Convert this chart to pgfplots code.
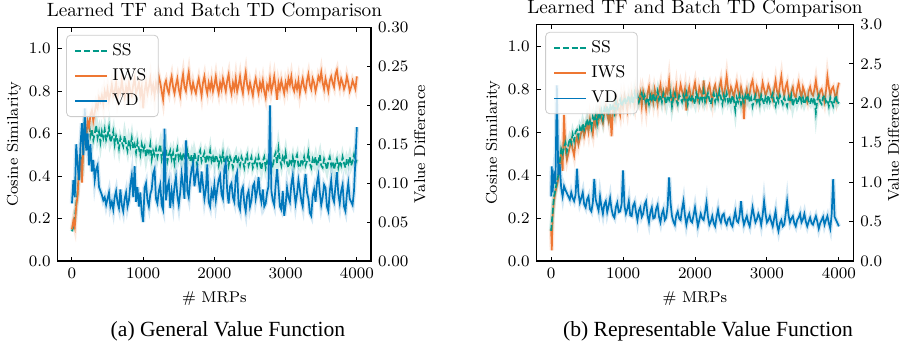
\documentclass[border=0pt]{standalone}
\usepackage{pgfplots}
\usepackage{pgfplotstable}
\pgfplotsset{compat=1.18}
\usepackage{fontspec}
\newfontfamily\timesfont{Liberation Serif}
\definecolor{ssc}{HTML}{009988}
\definecolor{iwsc}{HTML}{EE7733}
\definecolor{vdc}{HTML}{0077BB}
% panel (a): SS and IWS cosine similarity (left axis), VD value difference (right axis)
\pgfplotstableread{
x ss iws vd
0 0.14 0.15 0.074
20 0.16 0.19 0.104
40 0.20 0.16 0.082
60 0.27 0.26 0.150
80 0.33 0.31 0.123
100 0.42 0.44 0.104
120 0.50 0.49 0.150
140 0.40 0.37 0.177
160 0.55 0.54 0.136
180 0.62 0.64 0.196
200 0.60 0.58 0.142
220 0.63 0.66 0.164
240 0.65 0.63 0.123
260 0.59 0.69 0.150
280 0.62 0.71 0.115
300 0.57 0.66 0.130
320 0.60 0.70 0.104
340 0.64 0.74 0.118
360 0.58 0.72 0.123
380 0.61 0.77 0.095
400 0.56 0.75 0.090
420 0.61 0.78 0.085
440 0.58 0.74 0.078
460 0.62 0.80 0.082
480 0.57 0.77 0.072
500 0.59 0.81 0.080
520 0.63 0.76 0.088
540 0.56 0.79 0.070
560 0.58 0.83 0.076
580 0.61 0.78 0.066
600 0.55 0.80 0.082
620 0.59 0.84 0.090
640 0.57 0.77 0.075
660 0.53 0.81 0.068
680 0.58 0.79 0.092
700 0.56 0.85 0.072
720 0.54 0.80 0.064
740 0.59 0.77 0.080
760 0.55 0.82 0.088
780 0.52 0.79 0.070
800 0.57 0.84 0.078
820 0.54 0.80 0.098
840 0.58 0.78 0.110
860 0.53 0.83 0.082
880 0.55 0.86 0.122
900 0.51 0.79 0.076
920 0.56 0.81 0.095
940 0.53 0.84 0.070
960 0.50 0.78 0.088
980 0.55 0.82 0.062
1000 0.52 0.72 0.050
1020 0.54 0.80 0.094
1040 0.49 0.84 0.100
1060 0.53 0.79 0.078
1080 0.51 0.82 0.070
1100 0.55 0.86 0.086
1120 0.48 0.80 0.092
1140 0.52 0.83 0.112
1160 0.50 0.78 0.118
1180 0.53 0.84 0.080
1200 0.49 0.81 0.074
1220 0.52 0.87 0.090
1240 0.55 0.84 0.098
1260 0.48 0.80 0.072
1280 0.51 0.76 0.066
1300 0.49 0.83 0.170
1320 0.53 0.85 0.078
1340 0.47 0.81 0.094
1360 0.50 0.79 0.102
1380 0.52 0.84 0.068
1400 0.48 0.87 0.090
1420 0.51 0.82 0.076
1440 0.46 0.79 0.096
1460 0.50 0.83 0.108
1480 0.53 0.86 0.084
1500 0.48 0.81 0.072
1520 0.50 0.78 0.088
1540 0.47 0.84 0.112
1560 0.51 0.88 0.098
1580 0.49 0.82 0.080
1600 0.46 0.80 0.155
1620 0.52 0.85 0.090
1640 0.49 0.89 0.082
1660 0.47 0.83 0.104
1680 0.50 0.80 0.118
1700 0.46 0.84 0.125
1720 0.51 0.81 0.096
1740 0.48 0.79 0.110
1760 0.45 0.83 0.120
1780 0.50 0.86 0.102
1800 0.52 0.82 0.088
1820 0.47 0.78 0.115
1840 0.49 0.84 0.098
1860 0.51 0.87 0.080
1880 0.46 0.82 0.092
1900 0.50 0.79 0.124
1920 0.48 0.84 0.076
1940 0.52 0.81 0.070
1960 0.47 0.85 0.090
1980 0.49 0.80 0.082
2000 0.46 0.83 0.098
2020 0.50 0.87 0.078
2040 0.48 0.82 0.092
2060 0.45 0.79 0.104
2080 0.49 0.84 0.110
2100 0.47 0.81 0.086
2120 0.51 0.86 0.080
2140 0.46 0.83 0.118
2160 0.48 0.80 0.126
2180 0.50 0.85 0.090
2200 0.45 0.88 0.074
2220 0.49 0.82 0.096
2240 0.47 0.79 0.100
2260 0.44 0.84 0.082
2280 0.48 0.81 0.076
2300 0.50 0.86 0.108
2320 0.46 0.80 0.114
2340 0.48 0.83 0.072
2360 0.45 0.87 0.066
2380 0.49 0.82 0.090
2400 0.47 0.79 0.095
2420 0.44 0.85 0.074
2440 0.48 0.89 0.064
2460 0.50 0.83 0.084
2480 0.45 0.80 0.090
2500 0.47 0.84 0.070
2520 0.49 0.81 0.078
2540 0.44 0.78 0.096
2560 0.46 0.83 0.100
2580 0.48 0.86 0.080
2600 0.45 0.82 0.090
2620 0.49 0.79 0.108
2640 0.46 0.84 0.086
2660 0.43 0.81 0.076
2680 0.47 0.85 0.092
2700 0.49 0.80 0.070
2720 0.44 0.77 0.074
2740 0.47 0.83 0.088
2760 0.45 0.81 0.096
2780 0.48 0.86 0.200
2800 0.46 0.80 0.090
2820 0.44 0.83 0.078
2840 0.49 0.87 0.072
2860 0.51 0.82 0.098
2880 0.46 0.76 0.118
2900 0.53 0.84 0.094
2920 0.48 0.81 0.070
2940 0.45 0.85 0.066
2960 0.49 0.82 0.090
2980 0.47 0.79 0.058
3000 0.51 0.84 0.072
3020 0.46 0.81 0.094
3040 0.44 0.86 0.082
3060 0.48 0.83 0.076
3080 0.46 0.87 0.098
3100 0.49 0.82 0.110
3120 0.45 0.80 0.090
3140 0.48 0.84 0.074
3160 0.50 0.81 0.086
3180 0.45 0.85 0.104
3200 0.44 0.79 0.092
3220 0.48 0.83 0.078
3240 0.46 0.86 0.070
3260 0.49 0.82 0.096
3280 0.45 0.80 0.112
3300 0.47 0.85 0.088
3320 0.51 0.88 0.080
3340 0.46 0.83 0.062
3360 0.44 0.81 0.058
3380 0.48 0.86 0.084
3400 0.46 0.84 0.092
3420 0.49 0.80 0.076
3440 0.45 0.83 0.100
3460 0.47 0.87 0.110
3480 0.50 0.85 0.088
3500 0.45 0.89 0.072
3520 0.44 0.84 0.082
3540 0.48 0.81 0.098
3560 0.46 0.86 0.094
3580 0.43 0.83 0.070
3600 0.47 0.80 0.064
3620 0.49 0.85 0.090
3640 0.45 0.87 0.104
3660 0.47 0.84 0.082
3680 0.43 0.82 0.076
3700 0.46 0.88 0.096
3720 0.48 0.90 0.114
3740 0.44 0.85 0.086
3760 0.47 0.82 0.074
3780 0.45 0.86 0.090
3800 0.49 0.84 0.098
3820 0.46 0.81 0.070
3840 0.44 0.83 0.064
3860 0.48 0.87 0.086
3880 0.46 0.84 0.100
3900 0.49 0.80 0.080
3920 0.45 0.82 0.076
3940 0.47 0.85 0.072
3960 0.50 0.83 0.090
3980 0.46 0.81 0.130
4000 0.48 0.87 0.172
}\dataA
% panel (b)
\pgfplotstableread{
x ss iws vd
0 0.14 0.15 0.82
10 0.18 0.05 1.20
20 0.22 0.20 0.87
40 0.30 0.28 1.09
60 0.33 0.32 0.98
80 0.37 0.35 2.23
100 0.40 0.38 1.09
120 0.46 0.45 1.23
140 0.52 0.50 0.93
160 0.50 0.42 0.82
180 0.53 0.68 0.95
200 0.55 0.52 0.90
220 0.51 0.47 0.86
240 0.54 0.50 0.82
260 0.57 0.53 0.78
280 0.55 0.56 0.87
300 0.59 0.52 0.80
320 0.56 0.49 0.76
340 0.60 0.55 0.84
360 0.61 0.58 1.17
380 0.58 0.54 0.86
400 0.62 0.57 0.74
420 0.60 0.60 0.80
440 0.64 0.62 0.87
460 0.61 0.58 0.72
480 0.63 0.61 0.68
500 0.66 0.64 0.78
520 0.63 0.60 0.82
540 0.65 0.66 0.66
560 0.62 0.62 0.63
580 0.67 0.59 0.74
600 0.65 0.66 1.04
620 0.68 0.63 0.78
640 0.64 0.68 0.71
660 0.69 0.65 0.64
680 0.67 0.70 0.82
700 0.70 0.66 0.69
720 0.66 0.64 0.60
740 0.71 0.69 0.72
760 0.69 0.72 0.76
780 0.72 0.68 0.62
800 0.68 0.65 0.70
820 0.73 0.71 0.80
840 0.70 0.58 0.66
860 0.72 0.70 0.58
880 0.69 0.73 0.55
900 0.74 0.69 0.68
920 0.71 0.74 0.74
940 0.73 0.71 0.62
960 0.75 0.68 0.63
980 0.72 0.75 0.72
1000 0.74 0.71 1.15
1020 0.76 0.77 0.70
1040 0.73 0.74 0.60
1060 0.75 0.70 0.66
1080 0.77 0.76 0.76
1100 0.74 0.73 0.58
1120 0.76 0.78 0.57
1140 0.73 0.75 0.70
1160 0.78 0.72 0.74
1180 0.75 0.79 0.62
1200 0.77 0.76 0.52
1220 0.74 0.74 0.64
1240 0.76 0.78 0.68
1260 0.78 0.72 0.56
1280 0.75 0.79 0.60
1300 0.77 0.76 0.72
1320 0.74 0.71 0.76
1340 0.76 0.78 0.58
1360 0.73 0.81 0.49
1380 0.77 0.75 0.62
1400 0.75 0.78 0.68
1420 0.78 0.74 0.54
1440 0.74 0.80 0.55
1460 0.76 0.77 0.66
1480 0.79 0.73 0.71
1500 0.75 0.79 0.56
1520 0.77 0.82 0.49
1540 0.74 0.76 0.60
1560 0.78 0.79 0.65
1580 0.76 0.75 0.52
1600 0.73 0.80 0.55
1620 0.77 0.78 0.70
1640 0.75 0.84 1.06
1660 0.78 0.77 0.74
1680 0.72 0.74 0.57
1700 0.76 0.79 0.50
1720 0.78 0.76 0.46
1740 0.75 0.81 0.58
1760 0.73 0.75 0.63
1780 0.77 0.78 0.54
1800 0.76 0.82 0.52
1820 0.74 0.79 0.66
1840 0.77 0.76 0.76
1860 0.75 0.80 0.58
1880 0.78 0.70 0.46
1900 0.73 0.78 0.55
1920 0.76 0.81 0.60
1940 0.74 0.77 0.51
1960 0.77 0.75 0.49
1980 0.75 0.80 0.58
2000 0.73 0.83 0.68
2020 0.78 0.78 0.56
2040 0.76 0.75 0.44
2060 0.74 0.81 0.52
2080 0.77 0.79 0.60
2100 0.75 0.76 0.54
2120 0.79 0.84 0.52
2140 0.74 0.78 0.62
2160 0.76 0.75 0.74
2180 0.78 0.80 0.56
2200 0.75 0.82 0.46
2220 0.73 0.78 0.50
2240 0.76 0.74 0.57
2260 0.78 0.80 0.48
2280 0.74 0.82 0.44
2300 0.77 0.78 0.56
2320 0.75 0.76 0.65
2340 0.79 0.81 0.54
2360 0.76 0.84 0.49
2380 0.73 0.79 0.58
2400 0.77 0.76 0.60
2420 0.75 0.81 0.50
2440 0.78 0.86 0.46
2460 0.74 0.80 0.53
2480 0.76 0.77 0.55
2500 0.73 0.81 0.47
2520 0.77 0.79 0.44
2540 0.75 0.76 0.54
2560 0.70 0.80 0.63
2580 0.76 0.83 0.51
2600 0.74 0.79 0.49
2620 0.77 0.76 0.58
2640 0.73 0.81 0.76
2660 0.76 0.78 0.56
2680 0.74 0.66 0.46
2700 0.77 0.77 0.52
2720 0.75 0.80 0.57
2740 0.78 0.76 0.49
2760 0.74 0.78 0.44
2780 0.76 0.82 0.56
2800 0.72 0.84 0.68
2820 0.75 0.79 0.58
2840 0.77 0.76 0.49
2860 0.74 0.81 0.53
2880 0.76 0.79 0.60
2900 0.73 0.75 0.55
2920 0.77 0.78 0.46
2940 0.75 0.83 0.58
2960 0.73 0.80 0.76
2980 0.76 0.77 0.60
3000 0.74 0.79 0.49
3020 0.77 0.82 0.52
3040 0.74 0.80 0.57
3060 0.76 0.77 0.50
3080 0.78 0.75 0.44
3100 0.74 0.80 0.54
3120 0.72 0.84 0.63
3140 0.76 0.79 0.46
3160 0.74 0.77 0.38
3180 0.77 0.82 0.48
3200 0.75 0.86 0.52
3220 0.73 0.80 0.44
3240 0.76 0.77 0.46
3260 0.74 0.81 0.60
3280 0.72 0.83 0.76
3300 0.76 0.78 0.58
3320 0.74 0.75 0.49
3340 0.77 0.79 0.54
3360 0.72 0.81 0.57
3380 0.75 0.77 0.48
3400 0.76 0.76 0.44
3420 0.73 0.80 0.52
3440 0.75 0.83 0.55
3460 0.77 0.79 0.60
3480 0.74 0.76 0.49
3500 0.76 0.81 0.53
3520 0.73 0.79 0.60
3540 0.75 0.76 0.50
3560 0.77 0.74 0.44
3580 0.74 0.79 0.50
3600 0.73 0.81 0.55
3620 0.76 0.78 0.48
3640 0.74 0.77 0.46
3660 0.76 0.80 0.52
3680 0.69 0.84 0.57
3700 0.75 0.79 0.50
3720 0.77 0.76 0.41
3740 0.74 0.79 0.48
3760 0.73 0.80 0.52
3780 0.76 0.77 0.56
3800 0.77 0.74 0.46
3820 0.74 0.79 0.52
3840 0.75 0.86 0.57
3860 0.72 0.81 0.48
3880 0.76 0.77 0.41
3900 0.74 0.80 0.60
3920 0.72 0.81 1.04
3940 0.75 0.78 0.56
3960 0.77 0.75 0.52
3980 0.73 0.80 0.48
4000 0.74 0.83 0.44
}\dataB
\begin{document}
\begin{tikzpicture}
\useasboundingbox (0,0) rectangle (450.5pt,176pt);
\pgfplotsset{
  base/.style={scale only axis, xmin=-200, xmax=4200, ymin=0,
    tick align=inside, major tick length=2pt,
    tick style={line width=0.5pt, black},
    axis line style={line width=0.6pt},
    ticklabel style={font=\fontsize{7.8}{9}\selectfont},
    label style={font=\fontsize{7.8}{9}\selectfont},
    xtick={0,1000,2000,3000,4000},
    /pgf/number format/1000 sep={}},
  leftax/.style={base, ymax=1.1, ytick={0,0.2,0.4,0.6,0.8,1.0},
    xtick pos=both, ytick pos=left,
    yticklabel style={/pgf/number format/.cd, fixed, fixed zerofill, precision=1},
    ylabel={Cosine Similarity}, xlabel={\# MRPs}, ylabel shift=-3pt,
    title={Learned TF and Batch TD Comparison},
    every axis title shift=0pt,
    title style={font=\fontsize{9.6}{11}\selectfont, anchor=base, yshift=5.3pt}},
  rightax/.style={base, axis y line*=right, axis x line=none,
    ylabel={Value Difference}, ylabel shift=-4pt,
    legend style={at={(0.027,0.969)}, anchor=north west, fill=white, fill opacity=0.8,
      text opacity=1, draw=black!20, rounded corners=2pt,
      font=\fontsize{8.5}{10}\selectfont, row sep=1.2pt, inner xsep=4pt, inner ysep=2pt,
      /tikz/every even column/.append style={column sep=5pt}},
    legend cell align=left},
  ssline/.style={ssc, line width=0.85pt, dash pattern=on 3pt off 1.3pt},
  iwsline/.style={iwsc, line width=0.85pt},
  vdline/.style={vdc, line width=0.85pt},
  band/.style={line width=2.2pt, opacity=0.17, forget plot, solid},
}
% ---------------- panel (a) ----------------
\begin{axis}[leftax, at={(28.85pt,45.5pt)}, anchor=south west, width=156.7pt, height=116.7pt]
\addplot[ssc, band] table[x=x, y=ss] {\dataA};
\addplot[ssline] table[x=x, y=ss] {\dataA};
\addplot[iwsc, band] table[x=x, y=iws] {\dataA};
\addplot[iwsline] table[x=x, y=iws] {\dataA};
\end{axis}
\begin{axis}[rightax, at={(28.85pt,45.5pt)}, anchor=south west, width=156.7pt, height=116.7pt,
  ymax=0.30, ytick={0,0.05,0.10,0.15,0.20,0.25,0.30},
  yticklabel style={/pgf/number format/.cd, fixed, fixed zerofill, precision=2},
  legend image code/.code={\draw[#1] (0pt,0pt) -- (16pt,0pt);}]
\addlegendimage{ssline}\addlegendentry{SS}
\addlegendimage{iwsline}\addlegendentry{IWS}
\addplot[vdc, band] table[x=x, y=vd] {\dataA};
\addplot[vdline] table[x=x, y=vd] {\dataA};
\addlegendentry{VD}
\end{axis}
% ---------------- panel (b) ----------------
\begin{axis}[leftax, at={(268.35pt,45.5pt)}, anchor=south west, width=158.3pt, height=118.2pt]
\addplot[iwsc, band] table[x=x, y=iws] {\dataB};
\addplot[iwsline] table[x=x, y=iws] {\dataB};
\addplot[ssc, band] table[x=x, y=ss] {\dataB};
\addplot[ssline] table[x=x, y=ss] {\dataB};
\end{axis}
\begin{axis}[rightax, at={(268.35pt,45.5pt)}, anchor=south west, width=158.3pt, height=118.2pt,
  ymax=3.0, ytick={0,0.5,1.0,1.5,2.0,2.5,3.0},
  yticklabel style={/pgf/number format/.cd, fixed, fixed zerofill, precision=1},
  legend image code/.code={\draw[#1] (0pt,0pt) -- (16pt,0pt);}]
\addlegendimage{ssline}\addlegendentry{SS}
\addlegendimage{iwsline}\addlegendentry{IWS}
\addplot[vdc, band] table[x=x, y=vd] {\dataB};
\addplot[vdline] table[x=x, y=vd] {\dataB};
\addlegendentry{VD}
\end{axis}
\node[font=\timesfont\fontsize{10.8}{12}\selectfont] at (114pt,10.5pt) {(a) General Value Function};
\node[font=\timesfont\fontsize{10.8}{12}\selectfont] at (354pt,10.5pt) {(b) Representable Value Function};
\end{tikzpicture}
\end{document}
